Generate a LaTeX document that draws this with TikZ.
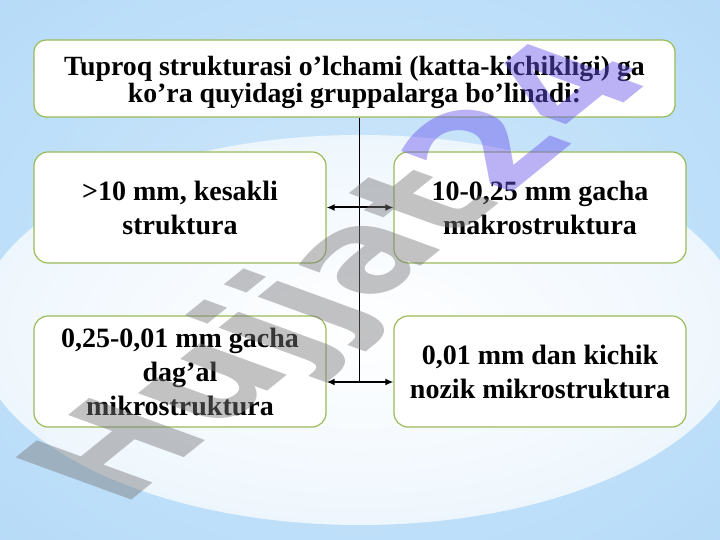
\documentclass[tikz,border=0pt]{standalone}
\usepackage{fontspec}
\setmainfont{Liberation Serif}
\newfontfamily\markfont{DejaVu Sans}
\usetikzlibrary{arrows.meta}

\definecolor{bgdeep}{RGB}{140,196,241}
\definecolor{bgblue}{RGB}{172,214,247}
\definecolor{bgpale}{RGB}{208,232,251}
\definecolor{glowwhite}{RGB}{236,245,253}
\definecolor{glowedge}{RGB}{192,224,249}
\definecolor{boxline}{RGB}{155,187,89}
\definecolor{markgray}{RGB}{120,120,124}
\definecolor{markviolet}{RGB}{105,85,235}

\pgfdeclareradialshading{backglow}{\pgfpoint{0bp}{0bp}}{color(0bp)=(bgpale); color(50bp)=(bgblue); color(72bp)=(bgdeep)}
\pgfdeclareradialshading{innerglow}{\pgfpoint{0bp}{0bp}}{color(0bp)=(white); color(28bp)=(glowwhite); color(50bp)=(glowedge)}

\tikzset{
  box/.style={draw=boxline, line width=1.2pt, fill=white, rounded corners=14pt,
    align=center, inner sep=4pt, minimum width=292pt, minimum height=111pt,
    font=\bfseries\fontsize{28}{34}\selectfont},
  link/.style={{Latex[length=8pt,width=7pt]}-{Latex[length=8pt,width=7pt]}, line width=2pt},
}

\begin{document}
\begin{tikzpicture}[x=1pt,y=1pt]
    \useasboundingbox (0,0) rectangle (720,540);
    \shade[shading=backglow] (0,0) rectangle (720,540);
    \begin{scope}
        \clip (0,0) rectangle (720,540);
        \shade[shading=innerglow] (360,210) ellipse [x radius=385, y radius=195];
    \end{scope}

    \node[box, rounded corners=12pt, minimum width=641pt, minimum height=77pt,
      font=\bfseries\fontsize{27.8}{27.5}\selectfont] (head) at (354.5,461.5)
      {\rule{0pt}{27pt}Tuproq strukturasi o’lchami (katta-kichikligi) ga\\ ko’ra quyidagi gruppalarga bo’linadi:};
    \node[box] (big) at (180,332.5) {>10 mm, kesakli\\ struktura};
    \node[box] (macro) at (540,332.5) {10-0,25 mm gacha\\ makrostruktura};
    \node[box] (coarse) at (180,168.5) {0,25-0,01 mm gacha\\ dag’al\\ mikrostruktura};
    \node[box] (fine) at (540,168.5) {0,01 mm dan kichik\\ nozik mikrostruktura};

    \coordinate (low) at (359,158);
    \draw[line width=1pt] (head.south -| low) -- (low);
    \draw[link] (big.east) -- (macro.west);
    \draw[link] (coarse.east |- low) -- (fine.west |- low);

    \begin{scope}[shift={(348,265)}, rotate=39, xslant=-0.6]
        \node[transform shape, inner sep=0pt, text opacity=0.45,
          font=\markfont\bfseries\fontsize{145}{145}\selectfont] (mark) at (0,0)
          {\textcolor{markgray}{Hujjat}\textcolor{markviolet}{24}};
    \end{scope}
\end{tikzpicture}
\end{document}
